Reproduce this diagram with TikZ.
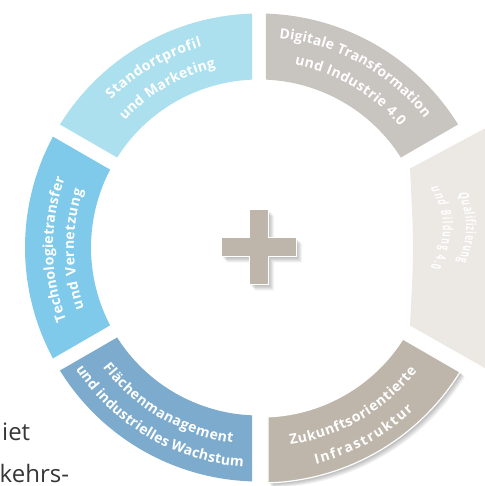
\documentclass[tikz,border=0pt]{standalone}
\usepackage{fontspec}
\setmainfont{Open Sans}
\usetikzlibrary{decorations.text}

\def\ro{234}
\def\ri{168}
\def\gp{7}
\def\pa{37.5}
\def\pb{9.5}
\definecolor{standort}{RGB}{173,224,238}
\definecolor{digital}{RGB}{200,196,192}
\definecolor{quali}{RGB}{236,233,228}
\definecolor{zukunft}{RGB}{190,182,170}
\definecolor{flaeche}{RGB}{125,171,206}
\definecolor{techno}{RGB}{127,201,234}
\definecolor{bodytext}{RGB}{55,55,55}

\newcommand\ringpart[3][]{%
\fill[#1] ({#2+asin(\gp/\ro)}:\ro) arc[start angle={#2+asin(\gp/\ro)},end angle={#3-asin(\gp/\ro)},radius=\ro]
	-- ({#3-asin(\gp/\ri)}:\ri) arc[start angle={#3-asin(\gp/\ri)},end angle={#2+asin(\gp/\ri)},radius=\ri] -- cycle;}
\newcommand\ringtext[4]{%
\path[decorate,decoration={text along path,text align={fit to path},text color=white,
	text={|\fontsize{14}{16}\selectfont\bfseries|#4}}] (#2:#1) arc[start angle=#2,end angle=#3,radius=#1];}
\newcommand\plussign[1][]{%
\fill[#1] (-\pb,\pa) -- (\pb,\pa) -- (\pb,\pb) -- (\pa,\pb) -- (\pa,-\pb) -- (\pb,-\pb) -- (\pb,-\pa)
	-- (-\pb,-\pa) -- (-\pb,-\pb) -- (-\pa,-\pb) -- (-\pa,\pb) -- (-\pb,\pb) -- cycle;}

\tikzset{bodyline/.style={anchor=base west,inner sep=0,text=bodytext,font=\fontsize{24}{28}\selectfont}}

\begin{document}
\begin{tikzpicture}[x=1pt,y=1pt]
\useasboundingbox (-259,-238.5) rectangle (225,247.5);
\ringpart[standort]{90}{150}
\ringpart[techno]{150}{210}
\ringpart[flaeche]{210}{270}
\ringpart[digital]{30}{90}
\fill[quali] (151,79) -- (240,126.6) -- (240,-128.6) -- (151,-78) .. controls (155,0) .. (151,79) -- cycle;

\ringtext{209}{135}{105.8}{Standortprofil}
\ringtext{185}{136.5}{103.5}{und Marketing}
\ringtext{210}{84.5}{38}{Digitale Transformation}
\ringtext{186}{79}{40.7}{und Industrie 4.0}
\ringtext{206}{200.8}{160.5}{Technologietransfer}
\ringtext{185}{199.1}{162}{und Vernetzung}
\ringtext{197}{217.5}{262.3}{Flächenmanagement}
\ringtext{220}{213.6}{265.9}{und industrielles Wachstum}

\begin{scope}[transform canvas={shift={(6pt,19.5pt)},yscale=0.6}]
\ringtext{201}{16.5}{-16.5}{Qualifizierung}
\ringtext{178}{22}{-22}{und Bildung 4.0}
\end{scope}

\begin{scope}[shift={(2,-1.5)}]
\foreach \k in {1,...,6}{\ringpart[black,opacity=0.05,shift={(0.8*\k,-0.8*\k)}]{270}{330}}
\ringpart[zukunft,draw=white,line width=1.2]{270}{330}
\ringtext{198}{278.5}{322}{Zukunftsorientierte}
\ringtext{222}{284.3}{313.4}{Infrastruktur}
\end{scope}

\foreach \k in {1,...,8}{\plussign[black,opacity=0.035,shift={(0.7*\k,-0.7*\k)}]}
\plussign[zukunft,draw=white,line width=1]

\node[bodyline] (gebiet) at (-257,-192.5) {iet};
\node[bodyline] (verkehrs) at (-259.5,-234.5) {kehrs-};
\end{tikzpicture}
\end{document}
